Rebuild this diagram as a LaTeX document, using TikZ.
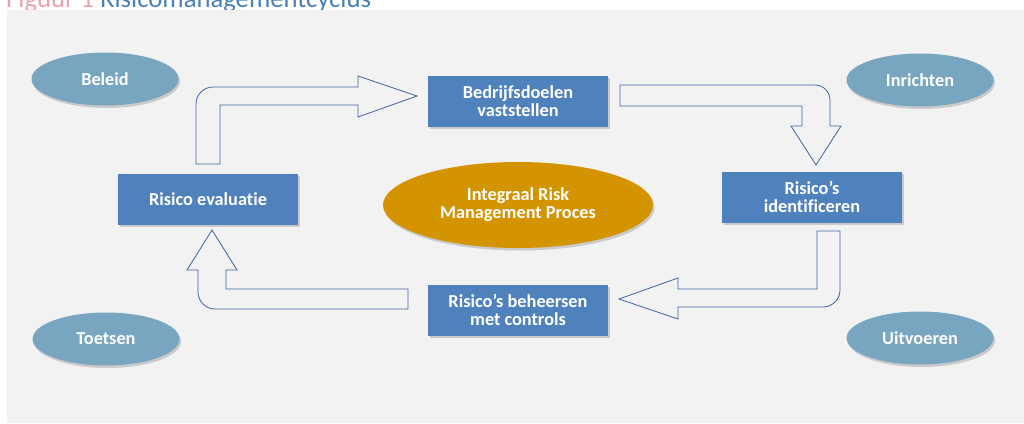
\documentclass[tikz,border=0pt]{standalone}
\usepackage{fontspec}
\setmainfont{Carlito}[Ligatures=NoCommon]
\usepackage{tikz}
\usetikzlibrary{shapes.geometric,shadows}
\definecolor{panelgray}{HTML}{F2F2F2}
\definecolor{boxblue}{HTML}{4F81BD}
\definecolor{ovalblue}{HTML}{78A6C0}
\definecolor{coregold}{HTML}{D39400}
\definecolor{arrowline}{HTML}{40649C}
\definecolor{capblue}{HTML}{4A80B6}
\definecolor{cappink}{HTML}{E8A4AD}
\tikzset{
    goal/.style={
        rectangle,
        fill=boxblue,
        text=white,
        align=center,
        minimum width=180pt,
        minimum height=51pt,
        inner sep=0pt,
        font=\fontsize{18.3}{18}\selectfont\bfseries,
        drop shadow={shadow xshift=1.5pt, shadow yshift=-2.5pt, opacity=0.35},
    },
    aspect/.style={
        ellipse,
        fill=ovalblue,
        text=white,
        minimum width=147pt,
        minimum height=53pt,
        inner sep=0pt,
        font=\fontsize{18.3}{18}\selectfont\bfseries,
        drop shadow={shadow xshift=1.5pt, shadow yshift=-2.5pt, opacity=0.35},
    },
    core/.style={
        ellipse,
        fill=coregold,
        text=white,
        align=center,
        minimum width=270pt,
        minimum height=86pt,
        inner sep=0pt,
        font=\fontsize{18.3}{18}\selectfont\bfseries,
        drop shadow={shadow xshift=1.5pt, shadow yshift=-2.5pt, opacity=0.35},
    },
    blockarrow/.style={
        draw=arrowline,
        fill=panelgray,
        line width=0.8pt,
        line join=miter,
    },
}

\begin{document}
\begin{tikzpicture}[x=1pt,y=-1pt]
                \useasboundingbox (0,0) rectangle (1024,423);

                \node [anchor=base west, inner sep=0pt, font=\fontsize{26.7}{30}\selectfont] (cap) at (6,8)
                    {\textcolor{cappink}{Figuur 1} \textcolor{capblue}{Risicomanagementcyclus}};
                \fill [panelgray] (7,10) rectangle (1024,423);

                \node [aspect] (beleid) at (105,79) {Beleid};
                \node [aspect] (inrichten) at (920,80) {Inrichten};
                \node [aspect] (toetsen) at (106,339) {Toetsen};
                \node [aspect] (uitvoeren) at (920,338) {Uitvoeren};

                \node [core] (irm) at (518,205) {Integraal Risk\\Management Proces};

                \node [goal] (doelen) at (518,101) {Bedrijfsdoelen\\vaststellen};
                \node [goal] (identif) at (812,197) {Risico’s\\identificeren};
                \node [goal] (beheers) at (518,310) {Risico’s beheersen\\met controls};
                \node [goal] (evaluatie) at (208,199) {Risico evaluatie};

                \draw [blockarrow] (196,164) -- (196,104) arc[start angle=180, end angle=270, radius=17]
                    -- (358,87) -- (358,76) -- (417,96) -- (358,117) -- (358,105) -- (220,105) -- (220,164) -- cycle;
                \draw [blockarrow] (620,85) -- (815,85) arc[start angle=270, end angle=360, radius=15]
                    -- (830,126) -- (841,126) -- (816,165) -- (791,126) -- (802,126) -- (802,106) -- (620,106) -- cycle;
                \draw [blockarrow] (817,231) -- (840,231) -- (840,290) arc[start angle=0, end angle=90, radius=17]
                    -- (678,307) -- (678,319) -- (619,299) -- (678,278) -- (678,289) -- (817,289) -- cycle;
                \draw [blockarrow] (408,289) -- (408,309) -- (215,309) arc[start angle=90, end angle=180, radius=17]
                    -- (198,270) -- (187,270) -- (212,230) -- (237,270) -- (226,270) -- (226,289) -- cycle;

            \end{tikzpicture}
\end{document}
